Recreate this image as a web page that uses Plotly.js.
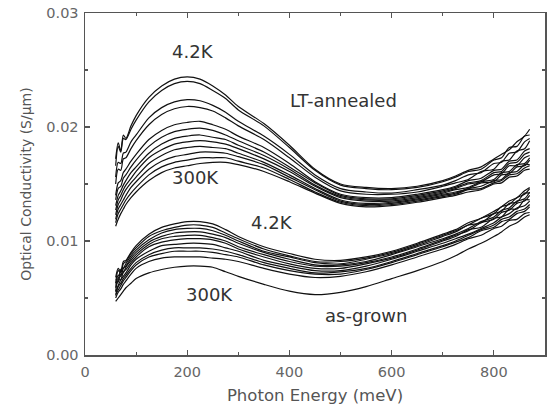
<!DOCTYPE html>
<html>
<head>
<meta charset="utf-8">
<script src="https://cdn.plot.ly/plotly-3.0.1.min.js"></script>
<style>html,body{margin:0;padding:0;background:#fff;}#chart{width:548px;height:409px;}</style>
</head>
<body>
<div id="chart"></div>
<script>
// Photon energy (meV), shared by all spectra
const energy = [60,65,70,75,80,90,100,125,150,175,200,225,250,275,300,350,400,450,500,550,600,650,700,725,750,775,800,815,830,845,860,870];

// LT-annealed sample, optical conductivity (S/um), 4.2K (top) ... 300K (bottom)
const lt1 = [0.0172,0.0186,0.0179,0.0193,0.0190,0.0201,0.0210,0.0226,0.0236,0.0242,0.0244,0.0242,0.0236,0.0228,0.0218,0.0203,0.0184,0.0163,0.0150,0.0147,0.0146,0.0148,0.0153,0.0157,0.0162,0.0165,0.0172,0.0176,0.0180,0.0187,0.0192,0.0198];
const lt2 = [0.0166,0.0183,0.0178,0.0190,0.0189,0.0198,0.0206,0.0222,0.0232,0.0238,0.0240,0.0238,0.0232,0.0225,0.0215,0.0201,0.0182,0.0162,0.0149,0.0146,0.0145,0.0147,0.0152,0.0156,0.0161,0.0163,0.0171,0.0173,0.0182,0.0183,0.0192,0.0193];
const lt3 = [0.0156,0.0169,0.0168,0.0177,0.0178,0.0187,0.0193,0.0208,0.0217,0.0222,0.0224,0.0223,0.0219,0.0213,0.0205,0.0192,0.0176,0.0158,0.0146,0.0143,0.0142,0.0145,0.0149,0.0153,0.0158,0.0160,0.0168,0.0169,0.0177,0.0178,0.0187,0.0190];
const lt4 = [0.0150,0.0163,0.0162,0.0172,0.0173,0.0181,0.0188,0.0202,0.0211,0.0216,0.0218,0.0217,0.0214,0.0208,0.0201,0.0189,0.0173,0.0156,0.0144,0.0141,0.0141,0.0143,0.0148,0.0151,0.0154,0.0161,0.0163,0.0170,0.0171,0.0179,0.0181,0.0188];
const lt5 = [0.0140,0.0151,0.0153,0.0160,0.0163,0.0170,0.0176,0.0189,0.0197,0.0202,0.0204,0.0205,0.0202,0.0198,0.0192,0.0182,0.0168,0.0152,0.0141,0.0138,0.0138,0.0141,0.0145,0.0148,0.0153,0.0155,0.0162,0.0163,0.0170,0.0171,0.0179,0.0181];
const lt6 = [0.0136,0.0146,0.0148,0.0155,0.0158,0.0165,0.0171,0.0183,0.0191,0.0196,0.0198,0.0199,0.0197,0.0193,0.0188,0.0178,0.0165,0.0151,0.0140,0.0137,0.0137,0.0140,0.0144,0.0147,0.0151,0.0153,0.0160,0.0161,0.0168,0.0169,0.0176,0.0178];
const lt7 = [0.0131,0.0140,0.0144,0.0149,0.0153,0.0160,0.0165,0.0177,0.0185,0.0190,0.0192,0.0193,0.0191,0.0189,0.0184,0.0175,0.0163,0.0149,0.0139,0.0136,0.0136,0.0139,0.0143,0.0146,0.0150,0.0152,0.0158,0.0159,0.0166,0.0166,0.0173,0.0175];
const lt8 = [0.0127,0.0136,0.0140,0.0145,0.0149,0.0155,0.0161,0.0173,0.0180,0.0185,0.0187,0.0188,0.0187,0.0185,0.0181,0.0172,0.0161,0.0148,0.0138,0.0135,0.0135,0.0138,0.0142,0.0145,0.0147,0.0152,0.0154,0.0160,0.0161,0.0167,0.0168,0.0173];
const lt9 = [0.0123,0.0132,0.0136,0.0141,0.0145,0.0151,0.0156,0.0168,0.0175,0.0180,0.0182,0.0183,0.0182,0.0181,0.0177,0.0169,0.0158,0.0146,0.0136,0.0133,0.0134,0.0137,0.0141,0.0143,0.0146,0.0151,0.0152,0.0158,0.0159,0.0165,0.0166,0.0171];
const lt10 = [0.0119,0.0128,0.0132,0.0136,0.0140,0.0147,0.0152,0.0163,0.0170,0.0174,0.0176,0.0178,0.0178,0.0177,0.0174,0.0167,0.0156,0.0145,0.0135,0.0132,0.0133,0.0136,0.0140,0.0142,0.0146,0.0148,0.0153,0.0154,0.0160,0.0161,0.0167,0.0167];
const lt11 = [0.0116,0.0124,0.0128,0.0132,0.0136,0.0142,0.0147,0.0158,0.0165,0.0169,0.0171,0.0173,0.0173,0.0173,0.0170,0.0164,0.0154,0.0143,0.0134,0.0131,0.0132,0.0135,0.0139,0.0141,0.0145,0.0146,0.0151,0.0153,0.0158,0.0159,0.0164,0.0166];
const lt12 = [0.0113,0.0119,0.0124,0.0128,0.0132,0.0138,0.0143,0.0153,0.0160,0.0164,0.0166,0.0168,0.0169,0.0169,0.0167,0.0161,0.0152,0.0142,0.0133,0.0130,0.0131,0.0134,0.0138,0.0140,0.0143,0.0145,0.0150,0.0151,0.0156,0.0157,0.0162,0.0163];

// as-grown sample, optical conductivity (S/um), 4.2K (top) ... 300K (bottom)
const ag1 = [0.0068,0.0076,0.0073,0.0082,0.0083,0.0090,0.0096,0.0106,0.0112,0.0115,0.0117,0.0117,0.0115,0.0110,0.0104,0.0095,0.0089,0.0084,0.0083,0.0086,0.0091,0.0098,0.0106,0.0110,0.0116,0.0120,0.0126,0.0130,0.0135,0.0138,0.0144,0.0147];
const ag2 = [0.0063,0.0074,0.0072,0.0080,0.0082,0.0089,0.0094,0.0104,0.0109,0.0112,0.0114,0.0114,0.0112,0.0107,0.0102,0.0093,0.0087,0.0082,0.0082,0.0085,0.0090,0.0097,0.0105,0.0109,0.0114,0.0120,0.0124,0.0130,0.0132,0.0138,0.0141,0.0146];
const ag3 = [0.0066,0.0067,0.0075,0.0076,0.0080,0.0087,0.0092,0.0101,0.0107,0.0110,0.0111,0.0111,0.0109,0.0105,0.0100,0.0091,0.0086,0.0081,0.0080,0.0084,0.0089,0.0096,0.0104,0.0108,0.0114,0.0116,0.0124,0.0126,0.0133,0.0134,0.0142,0.0142];
const ag4 = [0.0059,0.0070,0.0069,0.0076,0.0078,0.0085,0.0090,0.0099,0.0104,0.0107,0.0108,0.0108,0.0106,0.0103,0.0098,0.0090,0.0084,0.0079,0.0079,0.0082,0.0088,0.0095,0.0102,0.0106,0.0111,0.0117,0.0121,0.0127,0.0129,0.0135,0.0137,0.0143];
const ag5 = [0.0062,0.0064,0.0071,0.0072,0.0077,0.0083,0.0088,0.0097,0.0102,0.0104,0.0105,0.0105,0.0103,0.0100,0.0095,0.0088,0.0082,0.0078,0.0078,0.0081,0.0086,0.0093,0.0101,0.0105,0.0109,0.0116,0.0119,0.0125,0.0127,0.0133,0.0135,0.0140];
const ag6 = [0.0056,0.0066,0.0066,0.0073,0.0075,0.0081,0.0086,0.0095,0.0099,0.0101,0.0102,0.0102,0.0101,0.0098,0.0093,0.0086,0.0080,0.0076,0.0076,0.0080,0.0085,0.0092,0.0100,0.0104,0.0110,0.0112,0.0120,0.0121,0.0128,0.0128,0.0136,0.0136];
const ag7 = [0.0055,0.0061,0.0066,0.0069,0.0072,0.0079,0.0084,0.0091,0.0096,0.0097,0.0098,0.0098,0.0097,0.0094,0.0091,0.0083,0.0078,0.0074,0.0074,0.0078,0.0084,0.0091,0.0098,0.0102,0.0106,0.0111,0.0116,0.0121,0.0124,0.0129,0.0131,0.0135];
const ag8 = [0.0052,0.0060,0.0063,0.0067,0.0070,0.0076,0.0081,0.0088,0.0092,0.0094,0.0094,0.0094,0.0093,0.0091,0.0088,0.0081,0.0076,0.0072,0.0073,0.0076,0.0082,0.0089,0.0096,0.0100,0.0105,0.0110,0.0114,0.0119,0.0121,0.0126,0.0128,0.0132];
const ag9 = [0.0053,0.0057,0.0061,0.0065,0.0068,0.0074,0.0079,0.0086,0.0089,0.0091,0.0091,0.0091,0.0090,0.0088,0.0086,0.0079,0.0074,0.0071,0.0071,0.0075,0.0081,0.0088,0.0095,0.0099,0.0103,0.0109,0.0112,0.0117,0.0119,0.0124,0.0126,0.0130];
const ag10 = [0.0050,0.0055,0.0058,0.0062,0.0065,0.0071,0.0076,0.0082,0.0085,0.0086,0.0086,0.0086,0.0085,0.0084,0.0082,0.0076,0.0071,0.0068,0.0069,0.0073,0.0079,0.0086,0.0093,0.0097,0.0102,0.0105,0.0111,0.0113,0.0118,0.0119,0.0124,0.0125];
const ag11 = [0.0047,0.0050,0.0053,0.0056,0.0059,0.0063,0.0067,0.0072,0.0075,0.0077,0.0078,0.0078,0.0077,0.0073,0.0069,0.0062,0.0056,0.0053,0.0055,0.0060,0.0067,0.0074,0.0082,0.0087,0.0093,0.0098,0.0104,0.0108,0.0113,0.0116,0.0121,0.0123];

// Text labels
const labelTexts = ["4.2K", "LT-annealed", "300K", "4.2K", "300K", "as-grown"];
const labelX = [211, 506, 217, 365, 244, 549];
const labelY = [0.0266, 0.0223, 0.0156, 0.0116, 0.0053, 0.0035];

const xTitle = "Photon Energy (meV)";
const yTitle = "Optical Conductivity (S/\u03bcm)";

const series = [lt1,lt2,lt3,lt4,lt5,lt6,lt7,lt8,lt9,lt10,lt11,lt12,ag1,ag2,ag3,ag4,ag5,ag6,ag7,ag8,ag9,ag10,ag11];

const traces = series.map(s => ({
  x: energy, y: s, type: 'scatter', mode: 'lines',
  line: {color: '#111', width: 1.2, shape: 'spline', smoothing: 0.8},
  hoverinfo: 'skip', showlegend: false
}));

const fam = 'DejaVu Sans, Verdana, sans-serif';

const axisCommon = {
  showline: true, linecolor: '#555', linewidth: 1.5, mirror: 'ticks',
  ticks: 'inside', ticklen: 5, tickwidth: 1.2, tickcolor: '#555',
  showgrid: false, zeroline: false, automargin: false,
  tickfont: {family: fam, size: 14.5, color: '#666'}
};

const layout = {
  width: 548, height: 409,
  margin: {l: 85, r: 3, t: 13, b: 54},
  paper_bgcolor: '#fff', plot_bgcolor: '#fff',
  font: {family: fam, color: '#555'},
  xaxis: Object.assign({}, axisCommon, {
    range: [0, 900], tick0: 0, dtick: 200, ticklabelstandoff: 3,
    minor: {dtick: 100, ticks: 'inside', ticklen: 3, tickcolor: '#555', showgrid: false},
    title: {text: xTitle, font: {family: fam, size: 16.5, color: '#555'}, standoff: 10}
  }),
  yaxis: Object.assign({}, axisCommon, {
    range: [0, 0.03], tick0: 0, dtick: 0.01, tickformat: '.2f', ticklabelstandoff: 2,
    minor: {dtick: 0.005, ticks: 'inside', ticklen: 3, tickcolor: '#555', showgrid: false},
    title: {text: yTitle, font: {family: fam, size: 14, color: '#555'}, standoff: 11}
  }),
  annotations: labelTexts.map((t, i) => ({
    x: labelX[i], y: labelY[i], xref: 'x', yref: 'y', text: t, showarrow: false,
    font: {family: fam, size: 18, color: '#333'}
  }))
};

Plotly.newPlot('chart', traces, layout, {displayModeBar: false, staticPlot: true});
</script>
</body>
</html>
